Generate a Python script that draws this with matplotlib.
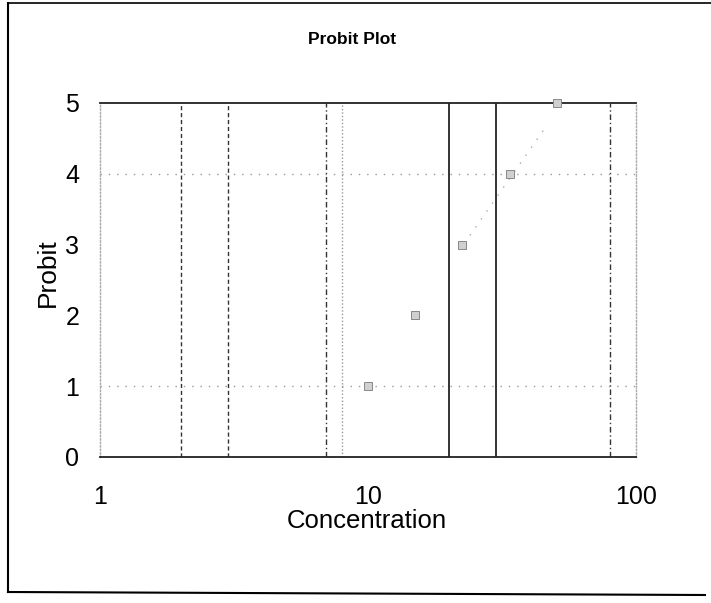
import matplotlib
matplotlib.use("Agg")
from matplotlib import pyplot as plt
from matplotlib.lines import Line2D

# Data
concentration = [10, 15, 22.5, 33.75, 50.6]
probit = [1, 2, 3, 4, 5]

# faint fitted line (only part of it survives in the scan)
fit_conc = [24, 46]
fit_probit = [3.13, 4.66]

# vertical grid lines still visible in the scan
vgrid_dashed = [2, 3]
vgrid_dashdot = [7, 80]
vgrid_dotted = [8]
vgrid_solid = [20, 30]
hgrid = [1, 4]

x_ticks = [1, 10, 100]
x_ticklabels = ['1', '10', '100']
y_ticks = [0, 1, 2, 3, 4, 5]

plt.rcParams['font.family'] = ['Liberation Sans', 'DejaVu Sans']

fig = plt.figure(figsize=(7.11, 6.03), dpi=100)
ax = fig.add_axes([100 / 711, 1 - 457 / 603, 536 / 711, 354 / 603])

ax.set_xscale('log')
ax.set_xlim(1, 100)
ax.set_ylim(0, 5)

for x in vgrid_dashed:
    ax.axvline(x, color='#333333', lw=1.0, ls=(0, (3, 2)), zorder=1)
for x in vgrid_dashdot:
    ax.axvline(x, color='#333333', lw=1.0, ls=(0, (4, 2, 1, 2)), zorder=1)
for x in vgrid_dotted:
    ax.axvline(x, color='#999999', lw=1.0, ls=(0, (1, 1.5)), zorder=1)
for x in vgrid_solid:
    ax.axvline(x, color='#222222', lw=1.3, zorder=1)
for y in hgrid:
    ax.axhline(y, color='#999999', lw=1.0, ls=(0, (1, 5)), zorder=1)

ax.plot(fit_conc, fit_probit, color='#aaaaaa', lw=1.0, ls=(0, (1, 6)), zorder=2)
ax.plot(concentration, probit, ls='none', marker='s', ms=6,
        mfc='#d0d0d0', mec='#888888', mew=0.7, zorder=3, clip_on=False)

for side in ['top', 'bottom']:
    ax.spines[side].set_color('#222222')
    ax.spines[side].set_linewidth(1.3)
for side in ['left', 'right']:
    ax.spines[side].set_color('#aaaaaa')
    ax.spines[side].set_linestyle((0, (1, 1.5)))
    ax.spines[side].set_linewidth(1.0)

ax.set_xticks(x_ticks)
ax.set_xticklabels(x_ticklabels)
ax.xaxis.set_minor_locator(matplotlib.ticker.NullLocator())
ax.set_yticks(y_ticks)
ax.tick_params(axis='both', length=0, labelsize=18)
ax.tick_params(axis='x', pad=20)
ax.tick_params(axis='y', pad=15)

ax.set_xlabel('Concentration', fontsize=18.5)
ax.xaxis.set_label_coords(0.498, -0.148)
ax.set_ylabel('Probit', fontsize=19)
ax.yaxis.set_label_coords(-0.075, 0.52)

fig.text(352 / 711, 1 - 39 / 603, 'Probit Plot', ha='center', va='center',
         fontsize=12.5, fontweight='bold')

# outer border of the chart area
fig.add_artist(Line2D([8 / 711, 8 / 711], [1 - 3 / 603, 1 - 592 / 603],
                      transform=fig.transFigure, color='black', lw=1.5))
fig.add_artist(Line2D([8 / 711, 1.0], [1 - 3 / 603, 1 - 3 / 603],
                      transform=fig.transFigure, color='black', lw=1.2))
fig.add_artist(Line2D([8 / 711, 705 / 711], [1 - 592 / 603, 1 - 595 / 603],
                      transform=fig.transFigure, color='black', lw=1.5))

fig.savefig('out.png', dpi=100)
